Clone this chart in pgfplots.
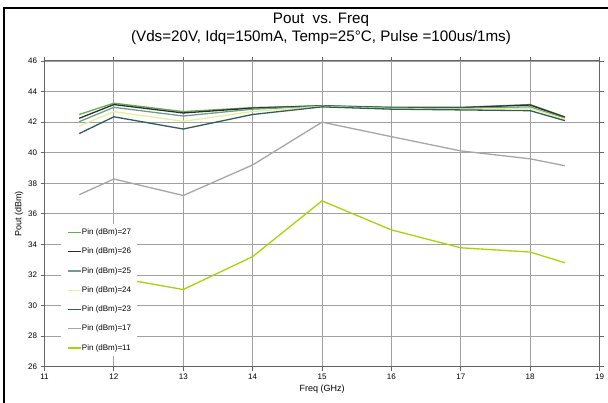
\documentclass[border=0pt]{standalone}
\usepackage{pgfplots}
\pgfplotsset{compat=1.18}
\usepackage{fontspec}
\setmainfont{Liberation Sans}
\definecolor{c27}{RGB}{96,176,80}
\definecolor{c26}{RGB}{45,45,45}
\definecolor{c25}{RGB}{110,158,138}
\definecolor{c24}{RGB}{228,240,160}
\definecolor{c23}{RGB}{46,94,88}
\definecolor{c17}{RGB}{166,166,166}
\definecolor{c11}{RGB}{168,210,10}
\definecolor{gridc}{RGB}{160,160,160}
\definecolor{axc}{RGB}{100,100,100}
\begin{document}
\begin{tikzpicture}[x=1bp,y=1bp]
\useasboundingbox (0,0) rectangle (608,402);
\draw[black,line width=2bp] (4,-5) -- (4,394) -- (615,394);
\node[font=\fontsize{15.2bp}{17bp}\selectfont] at (321,382) {Pout\ \ vs. Freq};
\node[font=\fontsize{15.2bp}{17bp}\selectfont] at (321,364) {(Vds=20V, Idq=150mA, Temp=25°C, Pulse =100us/1ms)};
\begin{axis}[
  at={(44.5bp,35.3bp)}, anchor=south west,
  scale only axis, width=555bp, height=305.7bp,
  xmin=11, xmax=19, ymin=26, ymax=46,
  xtick={11,...,19}, ytick={26,28,...,46},
  grid=major, major grid style={gridc, line width=0.9bp},
  axis line style={axc, line width=1bp},
  tick style={axc, line width=0.8bp},
  tick align=outside, major tick length=4bp,
  ticklabel style={font=\fontsize{8bp}{9bp}\selectfont},
  /pgf/number format/assume math mode=true,
  xlabel={Freq (GHz)}, ylabel={Pout (dBm)},
  label style={font=\fontsize{9bp}{10bp}\selectfont},
  xlabel style={yshift=2bp},
  ylabel style={yshift=-2bp},
  legend cell align=left,
  legend style={at={(rel axis cs:0.0297,0.466)}, anchor=north west,
    fill=white, draw=none, inner xsep=6bp, inner ysep=4bp,
    font=\fontsize{8bp}{9bp}\selectfont,
    nodes={inner sep=0pt, text height=6bp, text depth=1.8bp},
    row sep=11.5bp, column sep=0.5bp},
  legend image code/.code={\draw[#1] (0bp,0bp) -- (13bp,0bp);},
  every axis plot/.append style={line width=1.3bp},
]
\addplot[c27] coordinates {(11.5,42.50) (12,43.24) (13,42.69) (14,42.95) (15,43.08) (16,42.98) (17,42.97) (18,43.15) (18.5,42.35)};
\addlegendentry{Pin (dBm)=27}
\addplot[c26] coordinates {(11.5,42.25) (12,43.15) (13,42.60) (14,42.92) (15,43.06) (16,42.95) (17,42.95) (18,43.12) (18.5,42.32)};
\addlegendentry{Pin (dBm)=26}
\addplot[c25] coordinates {(11.5,42.03) (12,42.97) (13,42.40) (14,42.85) (15,43.04) (16,42.92) (17,42.90) (18,43.00) (18.5,42.25)};
\addlegendentry{Pin (dBm)=25}
\addplot[c24] coordinates {(11.5,41.74) (12,42.69) (13,42.05) (14,42.70) (15,43.02) (16,42.88) (17,42.85) (18,42.90) (18.5,42.20)};
\addlegendentry{Pin (dBm)=24}
\addplot[c23] coordinates {(11.5,41.25) (12,42.35) (13,41.55) (14,42.50) (15,43.00) (16,42.85) (17,42.80) (18,42.75) (18.5,42.10)};
\addlegendentry{Pin (dBm)=23}
\addplot[c17] coordinates {(11.5,37.25) (12,38.28) (13,37.20) (14,39.20) (15,42.00) (16,41.05) (17,40.12) (18,39.60) (18.5,39.15)};
\addlegendentry{Pin (dBm)=17}
\addplot[c11] coordinates {(12,31.85) (13,31.05) (14,33.20) (15,36.85) (16,34.95) (17,33.78) (18,33.50) (18.5,32.80)};
\addlegendentry{Pin (dBm)=11}
\end{axis}
\end{tikzpicture}
\end{document}
